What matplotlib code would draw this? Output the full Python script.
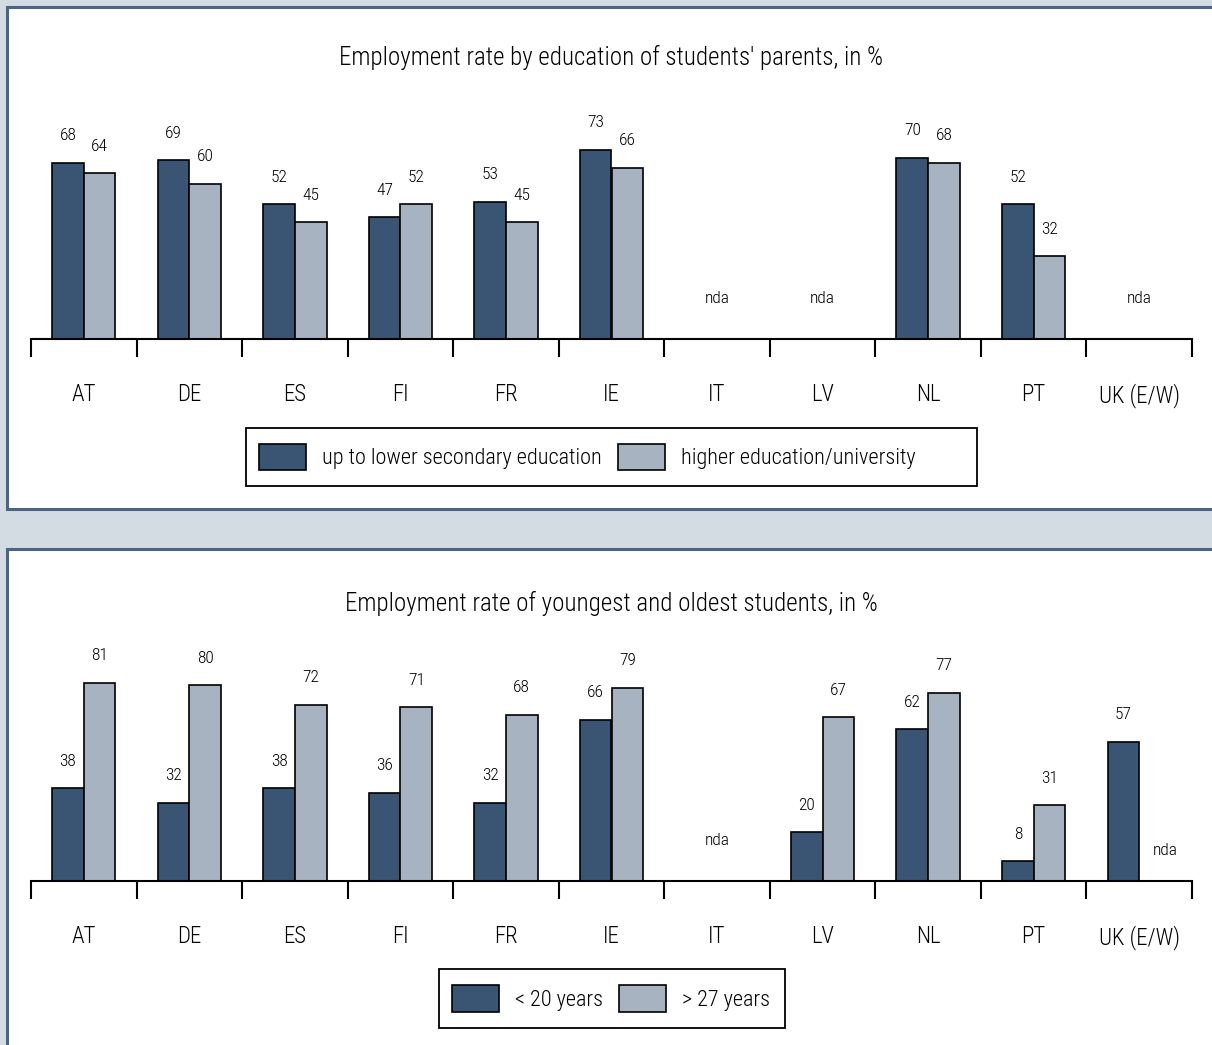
import numpy as np
import matplotlib
matplotlib.use("Agg")
import matplotlib.pyplot as plt
from matplotlib.patches import Rectangle, Patch
from matplotlib import font_manager

countries = ["AT", "DE", "ES", "FI", "FR", "IE", "IT", "LV", "NL", "PT", "UK (E/W)"]

# top panel: education of parents
low_edu = [68, 69, 52, 47, 53, 73, None, None, 70, 52, None]
high_edu = [64, 60, 45, 52, 45, 66, None, None, 68, 32, None]
edu_labels = ["up to lower secondary education", "higher education/university"]

# bottom panel: age groups
young = [38, 32, 38, 36, 32, 66, None, 20, 62, 8, 57]
old = [81, 80, 72, 71, 68, 79, None, 67, 77, 31, None]
age_labels = ["< 20 years", "> 27 years"]

DARK = "#3a5474"
LIGHT = "#a7b3c1"
BG = "#d3dbe3"
BORDER = "#4a6485"

names = {f.name for f in font_manager.fontManager.ttflist}
cands = ["Roboto Condensed", "Liberation Sans Narrow", "Roboto", "DejaVu Sans"]
plt.rcParams["font.family"] = [f for f in cands if f in names]
plt.rcParams["font.weight"] = "light"

W, H = 1212, 1045
fig = plt.figure(figsize=(W / 100, H / 100), dpi=100, facecolor=BG)

def px(x0, y0, w, h):
    # pixel box (top-left origin) -> figure fraction
    return [x0 / W, 1 - (y0 + h) / H, w / W, h / H]

def box(x0, y0, x1, y1, **kw):
    fig.patches.append(Rectangle((x0 / W, 1 - y1 / H), (x1 - x0) / W, (y1 - y0) / H,
                                 transform=fig.transFigure, **kw))

# white panels
box(7, 7, 1230, 509, facecolor="white", edgecolor=BORDER, lw=2.2, zorder=-5)
box(7, 549, 1230, 1080, facecolor="white", edgecolor=BORDER, lw=2.2, zorder=-5)

def panel(base_y, scale, title, title_y, a, b, labels, legbox, nda_dx=7):
    ymax = 100
    ax = fig.add_axes(px(31, base_y - scale * ymax, 1161, scale * ymax))
    ax.set_facecolor("none")
    ax.set_zorder(2)
    x = np.arange(len(countries))
    w = 0.3
    for vals, off, col in [(a, -w / 2, DARK), (b, w / 2, LIGHT)]:
        for i, v in enumerate(vals):
            if v is None:
                continue
            ax.bar(x[i] + off, v, w, color=col, edgecolor="black", lw=1.2, zorder=2)
            ax.annotate(str(v), (x[i] + off, v), xytext=(0, 19.5), textcoords="offset points",
                        ha="center", va="center", fontsize=12.5)
    for i in range(len(countries)):
        if a[i] is None and b[i] is None:
            ax.annotate("nda", (x[i], 0), xytext=(0, 29), textcoords="offset points",
                        ha="center", va="center", fontsize=12.5)
        elif a[i] is None:
            ax.annotate("nda", (x[i] - w / 2, 0), xytext=(-nda_dx, 22), textcoords="offset points",
                        ha="center", va="center", fontsize=12.5)
        elif b[i] is None:
            ax.annotate("nda", (x[i] + w / 2, 0), xytext=(nda_dx, 22), textcoords="offset points",
                        ha="center", va="center", fontsize=12.5)
    ax.set_xlim(-0.5, len(countries) - 0.5)
    ax.set_ylim(0, ymax)
    for s in ["top", "right", "left"]:
        ax.spines[s].set_visible(False)
    ax.spines["bottom"].set_linewidth(1.5)
    ax.set_yticks([])
    ax.set_xticks(np.arange(len(countries) + 1) - 0.5)
    ax.set_xticklabels([])
    ax.tick_params(axis="x", which="major", direction="out", length=13, width=1.5)
    ax.set_xticks(x, minor=True)
    ax.set_xticklabels(countries, minor=True, fontsize=16.5)
    ax.tick_params(axis="x", which="minor", length=0, pad=31.5)
    fig.text(611 / W, 1 - title_y / H, title, ha="center", va="center", fontsize=18)

    # legend: frame drawn separately, entries placed from its left edge
    x0, y0, x1, y1 = legbox
    box(x0, y0, x1, y1, facecolor="white", edgecolor="black", lw=1.3, zorder=-4)
    handles = [Patch(facecolor=DARK, edgecolor="black", lw=1.2),
               Patch(facecolor=LIGHT, edgecolor="black", lw=1.2)]
    fig.legend(handles, labels, loc="center left",
               bbox_to_anchor=((x0 + 13) / W, 1 - (y0 + y1) / 2 / H),
               ncol=2, fontsize=16, frameon=False, handlelength=2.1,
               handleheight=1.45, handletextpad=0.72, columnspacing=0.75,
               borderpad=0, borderaxespad=0)
    return ax

panel(339, 2.59, "Employment rate by education of students' parents, in %", 57,
      low_edu, high_edu, edu_labels, (246, 428, 977, 486))
panel(881, 2.445, "Employment rate of youngest and oldest students, in %", 603,
      young, old, age_labels, (439, 969, 785, 1028))

fig.savefig("out.png", dpi=100, facecolor=BG)
